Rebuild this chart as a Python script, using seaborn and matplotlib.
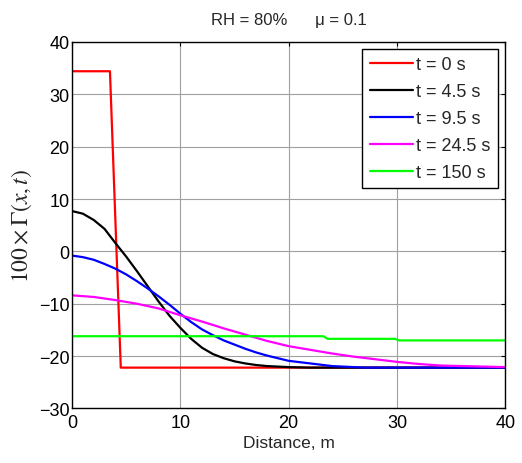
import matplotlib
matplotlib.use("Agg")
import matplotlib.pyplot as plt
import seaborn as sns
import pandas as pd

labels = ["t = 0 s", "t = 4.5 s", "t = 9.5 s", "t = 24.5 s", "t = 150 s"]
colors = ["#ff0000", "#000000", "#0000ff", "#ff00ff", "#00ff00"]

x_t0 = [0, 3.5, 4.5, 40]
y_t0 = [34.4, 34.4, -22.2, -22.2]

x_t45 = [0, 1, 2, 3, 4, 5, 6, 7, 8, 9, 10, 11, 12, 13, 14, 15, 16, 17, 18, 20, 22, 25, 30, 35, 40]
y_t45 = [7.7, 7.2, 6.0, 4.3, 1.6, -1.0, -3.8, -6.7, -9.6, -12.3, -14.6, -16.7, -18.4, -19.6, -20.4,
         -21.0, -21.4, -21.7, -21.9, -22.1, -22.2, -22.2, -22.2, -22.2, -22.2]

x_t95 = [0, 1, 2, 3, 4, 5, 6, 7, 8, 9, 10, 11, 12, 13, 14, 15, 16, 17, 18, 20, 22, 24, 27, 30, 40]
y_t95 = [-0.8, -1.1, -1.6, -2.4, -3.3, -4.4, -5.7, -7.1, -8.6, -10.2, -11.9, -13.5, -14.9, -16.0,
         -17.0, -17.8, -18.6, -19.3, -19.9, -20.9, -21.4, -21.9, -22.2, -22.2, -22.2]

x_t245 = [0, 2, 4, 6, 8, 10, 12, 14, 16, 18, 20, 22, 24, 26, 28, 30, 32, 34, 36, 38, 40]
y_t245 = [-8.4, -8.7, -9.3, -10.0, -10.9, -12.2, -13.4, -14.7, -15.9, -17.1, -18.1, -18.8,
          -19.5, -20.1, -20.6, -21.1, -21.5, -21.8, -21.9, -22.0, -22.1]

x_t150 = [0, 23.2, 23.6, 29.8, 30.2, 40]
y_t150 = [-16.2, -16.2, -16.7, -16.7, -17.0, -17.0]

xs = [x_t0, x_t45, x_t95, x_t245, x_t150]
ys = [y_t0, y_t45, y_t95, y_t245, y_t150]

rows = []
for lab, xx, yy in zip(labels, xs, ys):
    for a, b in zip(xx, yy):
        rows.append({"x": a, "y": b, "series": lab})
df = pd.DataFrame(rows)

sns.set_style("white")
plt.rcParams["font.family"] = ["Liberation Sans", "DejaVu Sans"]
plt.rcParams["mathtext.fontset"] = "stix"

fig = plt.figure(figsize=(5.22, 4.64), dpi=100)
ax = fig.add_axes([0.138, 0.1175, 0.83, 0.79])

sns.lineplot(data=df, x="x", y="y", hue="series", hue_order=labels,
             palette=dict(zip(labels, colors)), sort=False, estimator=None,
             linewidth=1.6, ax=ax)

ax.set_xlim(0, 40)
ax.set_ylim(-30, 40)
ax.set_xticks([0, 10, 20, 30, 40])
ax.set_yticks([-30, -20, -10, 0, 10, 20, 30, 40])
ax.grid(True, color="#a0a0a0", linewidth=0.8)
ax.set_axisbelow(True)
for s in ax.spines.values():
    s.set_color("black")
    s.set_linewidth(1.0)
    s.set_visible(True)
ax.tick_params(direction="in", length=3, top=True, right=True, labelsize=13,
               colors="black", pad=2, width=0.8)
ax.tick_params(axis="x", pad=4)

ax.set_xlabel("Distance, m", fontsize=12.5, labelpad=3)
ax.set_ylabel(r"$100\times\Gamma(x,t)$", fontsize=17, labelpad=3)
ax.set_title("RH = 80%      \u03bc = 0.1", fontsize=12, pad=13)

leg = ax.legend(loc="upper right", fontsize=13, frameon=True, fancybox=False,
                edgecolor="black", framealpha=1, handlelength=2.4,
                handletextpad=0.2, borderpad=0.4, labelspacing=0.55,
                borderaxespad=0.4)
leg.get_frame().set_linewidth(1.0)

fig.savefig("out.png", dpi=100)
